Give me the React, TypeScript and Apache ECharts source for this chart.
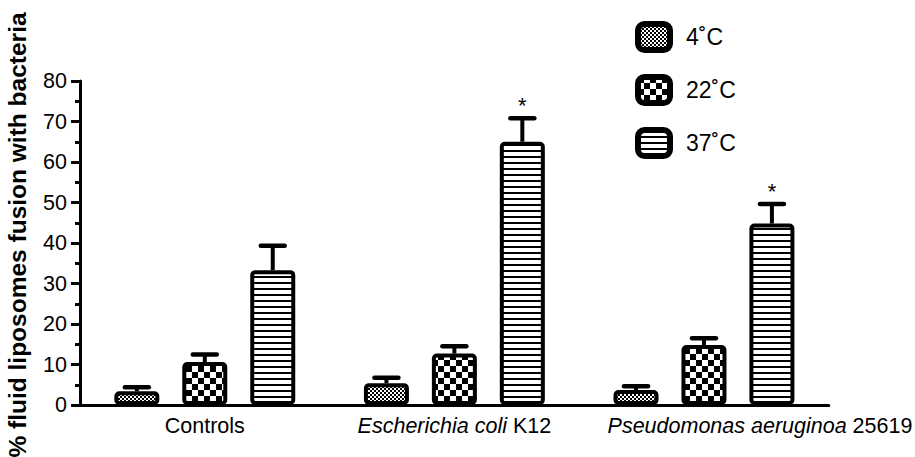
import React, { useEffect, useRef } from "react";
import * as echarts from "echarts";

const categories = ["Controls", "Escherichia coli K12", "Pseudomonas aeruginoa 25619"];
const labelShift = [0, 0, 112];
const seriesNames = ["4˚C", "22˚C", "37˚C"];
const t4 = [3.4, 5.4, 3.7];
const err4 = [1.0, 1.3, 0.9];
const t22 = [10.6, 12.7, 14.8];
const err22 = [1.9, 1.8, 1.7];
const t37 = [33.3, 65.0, 44.8];
const err37 = [6.0, 5.8, 4.8];
const sig37 = [0, 1, 1];
const yTicks = [0, 10, 20, 30, 40, 50, 60, 70, 80];

const BAR_W = 45;
const BAR_GAP = 0.51;
const FONT = 'Arial, "Liberation Sans", Helvetica, sans-serif';

function makePattern(kind: string) {
  const c = document.createElement("canvas");
  const ctx = c.getContext("2d")!;
  if (kind === "fine") {
    c.width = 4; c.height = 4;
    ctx.fillStyle = "#fff"; ctx.fillRect(0, 0, 4, 4);
    ctx.fillStyle = "#000"; ctx.fillRect(0, 0, 2, 2); ctx.fillRect(2, 2, 2, 2);
  } else if (kind === "coarse") {
    c.width = 12; c.height = 12;
    ctx.fillStyle = "#fff"; ctx.fillRect(0, 0, 12, 12);
    ctx.fillStyle = "#000"; ctx.fillRect(0, 0, 6, 6); ctx.fillRect(6, 6, 6, 6);
  } else {
    c.width = 6; c.height = 6;
    ctx.fillStyle = "#fff"; ctx.fillRect(0, 0, 6, 6);
    ctx.fillStyle = "#000"; ctx.fillRect(0, 0, 6, 2);
  }
  return { image: c.toDataURL(), repeat: "repeat", imageWidth: c.width, imageHeight: c.height } as any;
}

export default function App() {
  const ref = useRef<HTMLDivElement>(null);
  useEffect(() => {
    if (!ref.current) return;
    const chart = echarts.init(ref.current, undefined, { renderer: "svg" });
    const patterns = [makePattern("fine"), makePattern("coarse"), makePattern("lines")];
    const values = [t4, t22, t37];
    const errs = [err4, err22, err37];
    const spacing = BAR_W * (1 + BAR_GAP);

    const errData: any[] = [];
    for (let s = 0; s < 3; s++) {
      for (let i = 0; i < categories.length; i++) {
        errData.push([i, values[s][i], errs[s][i], s, s === 2 ? sig37[i] : 0]);
      }
    }

    const barSeries = seriesNames.map((name, s) => ({
      name,
      type: "bar",
      data: values[s],
      barWidth: BAR_W,
      barGap: BAR_GAP * 100 + "%",
      itemStyle: {
        color: patterns[s],
        borderColor: "#000",
        borderWidth: 4,
        borderRadius: 3,
      },
      z: 2,
    }));

    const option: any = {
      animation: false,
      textStyle: { fontFamily: FONT },
      grid: { left: 80, right: 84, top: 81, bottom: 52 },
      legend: {
        orient: "vertical",
        left: 630,
        top: 16,
        itemWidth: 32,
        itemHeight: 26,
        itemGap: 21,
        icon: "roundRect",
        itemStyle: { borderWidth: 6, borderColor: "#000" },
        textStyle: { fontSize: 23, color: "#000", fontFamily: FONT, padding: [3, 0, 0, 11] },
        data: seriesNames,
      },
      xAxis: {
        type: "category",
        data: categories.map((c, i) => ({
          value: c,
          textStyle: { padding: [0, 0, 0, labelShift[i]] },
        })),
        axisLine: { lineStyle: { color: "#000", width: 3 } },
        axisTick: { alignWithLabel: true, length: 9, lineStyle: { color: "#000", width: 3 } },
        axisLabel: {
          color: "#000",
          fontSize: 21.5,
          fontFamily: FONT,
          margin: 10,
          interval: 0,
          formatter: (v: string) => {
            const m = v.match(/^(.*?)\s+(\S*\d\S*)$/);
            if (m) return "{i|" + m[1] + "} " + m[2];
            return v;
          },
          rich: { i: { fontStyle: "italic", fontSize: 21.5, color: "#000", fontFamily: FONT } },
        },
      },
      yAxis: {
        type: "value",
        min: yTicks[0],
        max: yTicks[yTicks.length - 1],
        interval: 10,
        axisLine: { show: true, lineStyle: { color: "#000", width: 3 } },
        axisTick: { show: true, length: 9, lineStyle: { color: "#000", width: 3 } },
        minorTick: { show: true, splitNumber: 2, length: 5, lineStyle: { color: "#000", width: 3 } },
        splitLine: { show: false },
        axisLabel: { color: "#000", fontSize: 21.5, fontFamily: FONT, margin: 13 },
      },
      series: [
        ...barSeries,
        {
          type: "custom",
          z: 3,
          data: errData,
          renderItem: (params: any, api: any) => {
            const x = api.value(0);
            const v = api.value(1);
            const e = api.value(2);
            const s = api.value(3);
            const star = api.value(4);
            const base = api.coord([x, v]);
            const top = api.coord([x, v + e]);
            const cx = base[0] + (s - 1) * spacing;
            const children: any[] = [
              { type: "line", shape: { x1: cx, y1: base[1], x2: cx, y2: top[1] }, style: { stroke: "#000", lineWidth: 4 } },
              { type: "line", shape: { x1: cx - 12, y1: top[1], x2: cx + 12, y2: top[1] }, style: { stroke: "#000", lineWidth: 4.5, lineCap: "round" } },
            ];
            if (star) {
              children.push({
                type: "text",
                x: cx,
                y: top[1] - 2,
                style: { text: "*", fontSize: 22, fontFamily: FONT, fill: "#000", align: "center", verticalAlign: "bottom" },
              });
            }
            return { type: "group", children };
          },
        },
      ],
      graphic: [
        {
          type: "text",
          x: 17,
          y: 235,
          rotation: Math.PI / 2,
          style: {
            text: "% fluid liposomes fusion with bacteria",
            fontSize: 24.5,
            fontWeight: "bold",
            fontFamily: FONT,
            fill: "#000",
            align: "center",
            verticalAlign: "middle",
          },
        },
      ],
    };
    chart.setOption(option);
    return () => chart.dispose();
  }, []);
  return (
    <div
      ref={ref}
      style={{ position: "fixed", left: 0, top: 0, width: 915, height: 457, background: "#fff" }}
    />
  );
}
